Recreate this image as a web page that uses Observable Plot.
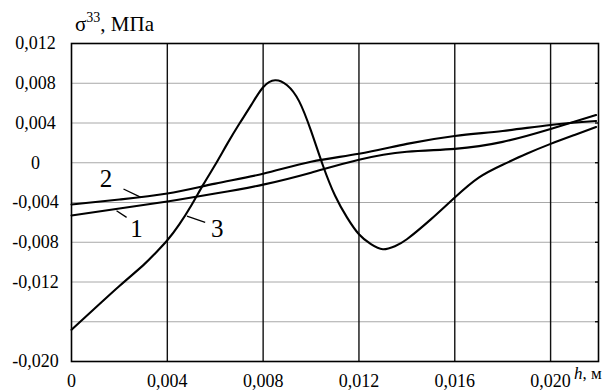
<!DOCTYPE html>
<html><head><meta charset="utf-8">
<script src="https://cdn.jsdelivr.net/npm/d3@7"></script>
<script src="https://cdn.jsdelivr.net/npm/@observablehq/plot@0.6"></script>
<style>
body{margin:0;background:#fff;}
#wrap{position:relative;width:616px;height:390px;font-family:"Liberation Serif","Times New Roman",Tinos,"DejaVu Serif",serif;color:#000;}
#wrap svg, #wrap svg text{font-family:"Liberation Serif","Times New Roman",Tinos,"DejaVu Serif",serif !important;}
#title{position:absolute;left:75px;top:12px;font-size:21px;line-height:1;white-space:nowrap;}
#title sup{font-size:14px;position:relative;top:-1px;}
#xlabel{position:absolute;left:574px;top:365px;font-size:17px;line-height:1;white-space:nowrap;}
</style></head><body>
<div id="wrap"><div id="chart"></div>
<div id="title">σ<sup>33</sup>, МПа</div>
<div id="xlabel"><i>h</i>, м</div></div>
<script>
// axis ticks / grid
const xDomain = [0, 0.022];
const yDomain = [-0.020, 0.012];
const xTicks = [0, 0.004, 0.008, 0.012, 0.016, 0.020];
const xGrid = [0.004, 0.008, 0.012, 0.016, 0.020];
const yTicks = [0.012, 0.008, 0.004, 0, -0.004, -0.008, -0.012, -0.020];
const yGrid = [0.008, 0.004, 0, -0.004, -0.008, -0.012, -0.016];

// curve 1
const h1 = [0, 0.002, 0.004, 0.006, 0.008, 0.010, 0.012, 0.014, 0.016, 0.018, 0.020, 0.0219];
const s1 = [-0.0053, -0.0046, -0.0039, -0.0031, -0.0022, -0.0010, 0.0003, 0.0011, 0.0014, 0.0021, 0.0034, 0.0048];
// curve 2
const h2 = [0, 0.002, 0.004, 0.006, 0.008, 0.010, 0.012, 0.014, 0.016, 0.018, 0.020, 0.0219];
const s2 = [-0.0042, -0.0037, -0.0031, -0.0021, -0.0011, 0.0001, 0.0009, 0.0019, 0.0027, 0.0032, 0.0038, 0.0042];
// curve 3
const h3 = [0, 0.001, 0.002, 0.003, 0.0035, 0.004, 0.0045, 0.005, 0.0055, 0.006, 0.0065, 0.007, 0.0075, 0.008, 0.0085, 0.009, 0.0095, 0.010, 0.0105, 0.011, 0.0115, 0.012, 0.0125, 0.013, 0.0135, 0.014, 0.015, 0.016, 0.017, 0.018, 0.019, 0.020, 0.021, 0.0219];
const s3 = [-0.0168, -0.0146, -0.0124, -0.0103, -0.0091, -0.0078, -0.0062, -0.0043, -0.0022, -0.0002, 0.0019, 0.0039, 0.0058, 0.0076, 0.0083, 0.0078, 0.0062, 0.0032, -0.0003, -0.0033, -0.0055, -0.0072, -0.0082, -0.0087, -0.0084, -0.0077, -0.0057, -0.0035, -0.0015, -0.0002, 0.0009, 0.0019, 0.0028, 0.0036];

// curve labels and leader lines (data units)
const labelText = ["2", "1", "3"];
const labelX = [0.00144, 0.00271, 0.00608];
const labelY = [-0.00168, -0.00664, -0.00664];
const leadX1 = [0.00217, 0.00188, 0.00482];
const leadY1 = [-0.00264, -0.00483, -0.00537];
const leadX2 = [0.00290, 0.00230, 0.00558];
const leadY2 = [-0.00349, -0.00550, -0.00601];

const toRows = (h, s) => h.map((x, i) => ({h: x, s: s[i]}));
const series = [toRows(h1, s1), toRows(h2, s2), toRows(h3, s3)];
const labels = labelText.map((t, i) => ({t, x: labelX[i], y: labelY[i]}));
const leaders = labelText.map((t, i) => ({x1: leadX1[i], y1: leadY1[i], x2: leadX2[i], y2: leadY2[i]}));

const fmt = d => d === 0 ? "0" : d.toFixed(3).replace(".", ",");
const serif = "'Liberation Serif', 'Times New Roman', Tinos, 'DejaVu Serif', serif";

const chart = Plot.plot({
  width: 616, height: 390,
  marginLeft: 71, marginRight: 18, marginTop: 43, marginBottom: 29,
  style: {fontFamily: serif, fontSize: "18px", color: "#000", background: "#fff"},
  x: {domain: xDomain},
  y: {domain: yDomain},
  marks: [
    Plot.ruleY(yGrid, {stroke: "#a8a8a8", strokeWidth: 1}),
    Plot.ruleX(xGrid, {stroke: "#111", strokeWidth: 1.4}),
    Plot.axisY({anchor: "right", ticks: yGrid, tickSize: 4, dx: -4, tickFormat: () => "", label: null, strokeWidth: 1.3}),
    Plot.frame({stroke: "#000", strokeWidth: 1.6}),
    ...series.map(d => Plot.line(d, {x: "h", y: "s", curve: "natural", stroke: "#000", strokeWidth: 2.1})),
    Plot.link(leaders, {x1: "x1", y1: "y1", x2: "x2", y2: "y2", stroke: "#000", strokeWidth: 1.3}),
    Plot.text(labels, {x: "x", y: "y", text: "t", fontSize: 25, fill: "#000", fontFamily: serif}),
    Plot.axisX({ticks: xTicks, tickSize: 0, tickPadding: 13, tickFormat: fmt, label: null, fontSize: 18, fontFamily: serif}),
    Plot.axisY({ticks: yTicks, tickSize: 0, tickPadding: 36, textAnchor: "middle", tickFormat: fmt, label: null, fontSize: 18, fontFamily: serif})
  ]
});
document.getElementById("chart").appendChild(chart);
</script>
</body></html>
